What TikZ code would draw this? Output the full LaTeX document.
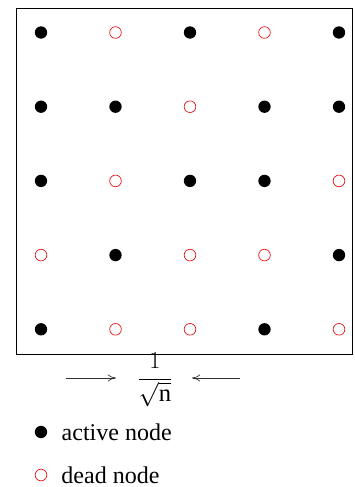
\documentclass[tikz,border=0pt]{standalone}
\usepackage{fontspec}
\setmainfont{Liberation Serif}
\usetikzlibrary{arrows.meta, positioning}
\definecolor{deadred}{RGB}{230, 20, 20}

\begin{document}
\begin{tikzpicture}[
  x=0.03cm, y=-0.03cm,
  active/.style={circle, fill=black, inner sep=0pt, minimum size=0.37cm},
  dead/.style={circle, draw=deadred, line width=0.6pt, inner sep=0pt, minimum size=0.35cm},
  arr/.style={-{To[length=7pt, width=6pt]}, line width=0.6pt, black!80},
  lbl/.style={font=\fontsize{20.5}{24}\selectfont, anchor=west, inner sep=0pt}
]
\useasboundingbox (0,0) rectangle (354,487);
\draw[line width=0.6pt] (16,8) rectangle (352,354);
% grid of nodes, row by row
\foreach \row [count=\j from 0] in {{active,dead,active,dead,active},{active,active,dead,active,active},{active,dead,active,active,dead},{dead,active,dead,dead,active},{active,dead,dead,active,dead}}{
  \foreach \s [count=\i from 0] in \row
    \node[\s] (n\i\j) at (41+74.5*\i, 32.5+74.2*\j) {};
}
% spacing label
\node[inner sep=0pt] (space) at (155,380) {\fontsize{21}{24}\selectfont$\displaystyle\frac{1}{\sqrt{\mathrm{n}}}$};
\coordinate (la) at (66,378);
\coordinate (lb) at (116,378);
\coordinate (ra) at (240,378);
\coordinate (rb) at (192,378);
\draw[arr] (la) -- (lb);
\draw[arr] (ra) -- (rb);
% legend
\node[active] (keyact) at (41,432) {};
\node[lbl, right=12pt of keyact] (txtact) {active node};
\node[dead] (keydead) at (41,475) {};
\node[lbl, right=12pt of keydead] (txtdead) {dead node};
\end{tikzpicture}
\end{document}
